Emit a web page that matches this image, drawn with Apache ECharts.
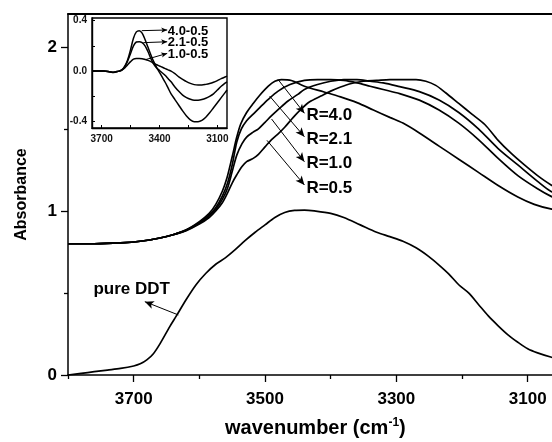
<!DOCTYPE html>
<html>
<head>
<meta charset="utf-8">
<script src="https://cdn.jsdelivr.net/npm/echarts@6/dist/echarts.min.js"></script>
<style>
html,body{margin:0;padding:0;background:#fff;}
#chart{width:552px;height:442px;}
</style>
</head>
<body>
<div id="chart"></div>
<script>
// ---------- data ----------
// main panel: pure DDT
const wnDDT = [3800,3780,3760,3740,3720,3700,3690,3680,3670,3660,3645,3635,3620,3605,3590,3575,3560,3545,3530,3515,3500,3485,3470,3455,3440,3425,3400,3380,3355,3330,3310,3290,3270,3250,3235,3220,3205,3190,3175,3160,3145,3130,3115,3100,3085,3065,3045,3025,3000];
const absDDT = [0.00,0.01,0.02,0.03,0.04,0.055,0.068,0.092,0.13,0.19,0.295,0.36,0.46,0.55,0.62,0.675,0.715,0.765,0.82,0.87,0.915,0.96,0.99,1.003,1.005,1.0,0.985,0.96,0.915,0.87,0.843,0.815,0.775,0.72,0.67,0.615,0.55,0.50,0.43,0.36,0.30,0.245,0.20,0.16,0.135,0.11,0.09,0.075,0.06];

// main panel: R curves
const wnR40 = [3800,3760,3720,3690,3660,3640,3620,3600,3585,3575,3565,3558,3550,3543,3537,3528,3518,3508,3495,3485,3475,3460,3440,3410,3385,3360,3335,3310,3290,3265,3235,3205,3175,3145,3115,3090,3065,3040,3020,3000];
const absR40 = [0.80,0.80,0.805,0.815,0.835,0.855,0.885,0.935,0.985,1.04,1.12,1.20,1.33,1.45,1.53,1.60,1.655,1.705,1.76,1.79,1.80,1.795,1.76,1.725,1.695,1.66,1.615,1.57,1.535,1.475,1.395,1.315,1.235,1.155,1.085,1.04,1.012,0.995,0.985,0.98];

const wnR21 = [3800,3760,3720,3690,3660,3640,3620,3600,3585,3575,3565,3557,3550,3543,3536,3528,3518,3508,3495,3480,3462,3440,3420,3400,3380,3360,3340,3320,3295,3265,3235,3205,3175,3145,3115,3085,3065,3040,3020,3000];
const absR21 = [0.80,0.80,0.805,0.815,0.835,0.855,0.883,0.93,0.975,1.02,1.09,1.17,1.28,1.42,1.50,1.55,1.59,1.63,1.68,1.73,1.77,1.795,1.80,1.80,1.795,1.78,1.76,1.74,1.715,1.675,1.615,1.535,1.435,1.32,1.215,1.135,1.09,1.05,1.03,1.015];

const wnR10 = [3800,3760,3720,3690,3660,3640,3620,3600,3585,3575,3565,3557,3550,3543,3535,3528,3518,3510,3500,3490,3478,3465,3450,3440,3420,3400,3380,3360,3340,3320,3295,3265,3235,3205,3175,3145,3115,3085,3065,3040,3020,3000];
const absR10 = [0.80,0.80,0.805,0.815,0.835,0.855,0.882,0.925,0.97,1.01,1.07,1.14,1.24,1.34,1.41,1.45,1.48,1.50,1.54,1.58,1.625,1.67,1.71,1.74,1.77,1.79,1.80,1.80,1.79,1.78,1.757,1.727,1.676,1.60,1.50,1.38,1.28,1.18,1.12,1.08,1.055,1.04];

const wnR05 = [3800,3760,3720,3690,3660,3640,3620,3600,3585,3575,3565,3557,3550,3543,3535,3528,3518,3510,3500,3490,3480,3470,3457,3445,3432,3415,3400,3385,3370,3350,3330,3310,3290,3270,3255,3240,3225,3205,3185,3165,3145,3125,3105,3085,3065,3045,3025,3000];
const absR05 = [0.80,0.80,0.805,0.815,0.835,0.855,0.88,0.92,0.96,1.00,1.05,1.11,1.17,1.22,1.27,1.30,1.32,1.345,1.39,1.435,1.47,1.51,1.57,1.62,1.665,1.70,1.73,1.755,1.775,1.79,1.795,1.80,1.80,1.80,1.79,1.765,1.72,1.655,1.59,1.525,1.43,1.35,1.28,1.215,1.16,1.12,1.09,1.06];

// inset: difference spectra
const wnInset = [3750,3720,3690,3660,3640,3625,3610,3595,3580,3565,3550,3535,3520,3505,3490,3475,3460,3445,3430,3415,3400,3385,3370,3355,3340,3320,3300,3280,3260,3240,3220,3200,3180,3160,3140,3120,3100,3080,3060,3050];
const dif40 = [0,0,0,-0.005,-0.012,-0.005,0.0,0.01,0.04,0.09,0.17,0.26,0.31,0.32,0.30,0.25,0.19,0.13,0.075,0.03,-0.01,-0.05,-0.09,-0.135,-0.18,-0.225,-0.27,-0.315,-0.355,-0.385,-0.40,-0.40,-0.39,-0.365,-0.33,-0.29,-0.25,-0.21,-0.17,-0.15];
const dif21 = [0,0,0,-0.005,-0.01,-0.005,0.0,0.01,0.035,0.08,0.14,0.20,0.23,0.233,0.225,0.20,0.155,0.10,0.055,0.025,0.005,-0.015,-0.035,-0.06,-0.085,-0.125,-0.16,-0.19,-0.21,-0.223,-0.23,-0.23,-0.225,-0.215,-0.20,-0.18,-0.15,-0.12,-0.095,-0.085];
const dif10 = [0,0,0,-0.005,-0.01,-0.005,0.0,0.008,0.025,0.05,0.075,0.095,0.10,0.10,0.098,0.092,0.085,0.075,0.062,0.05,0.04,0.03,0.02,0.01,0.0,-0.02,-0.045,-0.065,-0.083,-0.097,-0.107,-0.11,-0.11,-0.105,-0.098,-0.088,-0.075,-0.06,-0.047,-0.04];

// tick labels
const xMainLabels = [3700,3500,3300,3100];
const xMainMinor = [3800,3600,3400,3200];
const yMainLabels = [0,1,2];
const yMainMinor = [0.5,1.5];
const xInsetLabels = [3700,3400,3100];
const xInsetTicks = [3700,3550,3400,3250,3100];
const yInsetLabels = [-0.4,0,0.4];
const yInsetTicks = [-0.4,-0.2,0,0.2,0.4];

// annotations
const rNames = ['R=4.0','R=2.1','R=1.0','R=0.5'];
const rArrowFrom = [[3480,1.80],[3493,1.70],[3490,1.56],[3497,1.43]];
const rArrowTo = [[3440,1.595],[3440,1.452],[3440,1.30],[3440,1.158]];
const rLabelAt = [[3437,1.585],[3437,1.437],[3437,1.29],[3437,1.14]];
const ddtName = 'pure DDT';
const ddtArrowFrom = [3632,0.366];
const ddtArrowTo = [3683,0.447];
const ddtLabelAt = [3703,0.52];
const insetNames = ['4.0-0.5','2.1-0.5','1.0-0.5'];
const insetArrowFrom = [[3492,0.32],[3484,0.225],[3470,0.092]];
const insetArrowTo = [[3360,0.325],[3360,0.232],[3360,0.14]];
const insetLabelAt = [[3357,0.312],[3357,0.228],[3357,0.133]];

// ---------- chart ----------
const FONT = '"Liberation Sans", Arial, Helvetica, sans-serif';
const zip = (xs, ys) => xs.map((x, i) => [x, ys[i]]);
const arrowPairs = (from, to) => from.map((f, i) => [{coord: f}, {coord: to[i]}]);
const plain = v => String(v);

const lineStyle = {color: '#000', width: 1.7};
function curve(data, xi, yi, extra) {
  return Object.assign({
    type: 'line', xAxisIndex: xi, yAxisIndex: yi, data: data,
    showSymbol: false, symbol: 'none', smooth: 0.3,
    lineStyle: lineStyle, silent: true, animation: false, z: 3
  }, extra || {});
}
function arrowMark(pairs, size) {
  return {
    silent: true, animation: false, symbol: ['none', 'arrow'], symbolSize: size,
    lineStyle: {color: '#000', width: 1, type: 'solid', opacity: 1},
    itemStyle: {color: '#000', opacity: 1},
    label: {show: false}, emphasis: {disabled: true},
    data: pairs
  };
}
function labelSeries(names, at, xi, yi, fs, pos) {
  return {
    type: 'scatter', xAxisIndex: xi, yAxisIndex: yi, symbolSize: 0.01, silent: true,
    animation: false, z: 5,
    itemStyle: {opacity: 1, color: '#000'},
    emphasis: {disabled: true},
    data: names.map((n, i) => ({name: n, value: at[i]})),
    label: {show: true, position: pos, distance: 0, formatter: '{b}', opacity: 1,
      fontFamily: FONT, fontWeight: 'bold', fontSize: fs, color: '#000'}
  };
}

// visible x range: the reference is cropped on the right at about 3063 cm-1
const X_LEFT = 3800, X_RIGHT = 3063;

const option = {
  animation: false,
  backgroundColor: '#fff',
  title: {
    text: 'wavenumber (cm{sup|-1})',
    left: 220, top: 412,
    textStyle: {
      fontFamily: FONT, fontWeight: 'bold', fontSize: 20, color: '#000',
      rich: {sup: {fontFamily: FONT, fontWeight: 'bold', fontSize: 12, color: '#000', padding: [0, 0, 10, 0]}}
    }
  },
  grid: [
    {left: 68, top: 14, right: 0, bottom: 67, show: false},
    {left: 92, top: 18, width: 135, height: 110, show: true, borderColor: '#000', borderWidth: 1.4, backgroundColor: '#fff', z: 4}
  ],
  xAxis: [
    {gridIndex: 0, type: 'value', min: X_RIGHT, max: X_LEFT, inverse: true, position: 'bottom',
      axisLine: {show: true, onZero: false, lineStyle: {color: '#000', width: 1.5}},
      axisTick: {show: true, inside: false, length: 7, customValues: xMainLabels, lineStyle: {color: '#000', width: 1.3}},
      axisLabel: {show: true, customValues: xMainLabels, formatter: plain, margin: 16, fontFamily: FONT, fontWeight: 'bold', fontSize: 17, color: '#000'},
      splitLine: {show: false}},
    {gridIndex: 0, type: 'value', min: X_RIGHT, max: X_LEFT, inverse: true, position: 'bottom',
      axisLine: {show: false, onZero: false},
      axisTick: {show: true, inside: false, length: 4, customValues: xMainMinor, lineStyle: {color: '#000', width: 1.3}},
      axisLabel: {show: false}, splitLine: {show: false}},
    {gridIndex: 1, type: 'value', min: 3050, max: 3750, inverse: true, position: 'bottom',
      axisLine: {show: true, onZero: false, lineStyle: {color: '#000', width: 1.4}},
      axisTick: {show: true, inside: true, length: 3, customValues: xInsetTicks, lineStyle: {color: '#000', width: 1}},
      axisLabel: {show: true, customValues: xInsetLabels, formatter: plain, margin: 6, fontFamily: FONT, fontWeight: 'bold', fontSize: 10, color: '#111'},
      splitLine: {show: false}, z: 5},
    {gridIndex: 0, type: 'value', min: X_RIGHT, max: X_LEFT, inverse: true, position: 'top',
      axisLine: {show: true, onZero: false, lineStyle: {color: '#000', width: 2}},
      axisTick: {show: false}, axisLabel: {show: false}, splitLine: {show: false}}
  ],
  yAxis: [
    {gridIndex: 0, type: 'value', min: 0, max: 2.2, position: 'left',
      name: 'Absorbance', nameLocation: 'middle', nameGap: 38,
      nameTextStyle: {fontFamily: FONT, fontWeight: 'bold', fontSize: 16, color: '#000'},
      axisLine: {show: true, onZero: false, lineStyle: {color: '#000', width: 1.5}},
      axisTick: {show: true, inside: false, length: 7, customValues: yMainLabels, lineStyle: {color: '#000', width: 1.3}},
      axisLabel: {show: true, customValues: yMainLabels, margin: 11, fontFamily: FONT, fontWeight: 'bold', fontSize: 17, color: '#000'},
      splitLine: {show: false}},
    {gridIndex: 0, type: 'value', min: 0, max: 2.2, position: 'left',
      axisLine: {show: false, onZero: false},
      axisTick: {show: true, inside: false, length: 4, customValues: yMainMinor, lineStyle: {color: '#000', width: 1.3}},
      axisLabel: {show: false}, splitLine: {show: false}},
    {gridIndex: 1, type: 'value', min: -0.45, max: 0.42, position: 'left',
      axisLine: {show: true, onZero: false, lineStyle: {color: '#000', width: 1.4}},
      axisTick: {show: true, inside: true, length: 3, customValues: yInsetTicks, lineStyle: {color: '#000', width: 1}},
      axisLabel: {show: true, customValues: yInsetLabels, margin: 5, fontFamily: FONT, fontWeight: 'bold', fontSize: 10, color: '#111',
        formatter: v => v.toFixed(1)},
      splitLine: {show: false}, z: 5}
  ],
  series: [
    curve(zip(wnDDT, absDDT), 0, 0, {markLine: arrowMark(arrowPairs([ddtArrowFrom].concat(rArrowFrom), [ddtArrowTo].concat(rArrowTo)), [6, 9])}),
    curve(zip(wnR40, absR40), 0, 0),
    curve(zip(wnR21, absR21), 0, 0),
    curve(zip(wnR10, absR10), 0, 0),
    curve(zip(wnR05, absR05), 0, 0),
    curve(zip(wnInset, dif40), 2, 2, {z: 6, lineStyle: {color: '#000', width: 1.5},
      markLine: arrowMark(arrowPairs(insetArrowFrom, insetArrowTo), [4, 6])}),
    curve(zip(wnInset, dif21), 2, 2, {z: 6, lineStyle: {color: '#000', width: 1.5}}),
    curve(zip(wnInset, dif10), 2, 2, {z: 6, lineStyle: {color: '#000', width: 1.5}}),
    labelSeries(rNames, rLabelAt, 0, 0, 17, 'right'),
    labelSeries([ddtName], [ddtLabelAt], 0, 0, 17, 'inside'),
    labelSeries(insetNames, insetLabelAt, 2, 2, 13, 'right')
  ]
};

const chart = echarts.init(document.getElementById('chart'), null, {renderer: 'canvas'});
chart.setOption(option);
</script>
</body>
</html>
